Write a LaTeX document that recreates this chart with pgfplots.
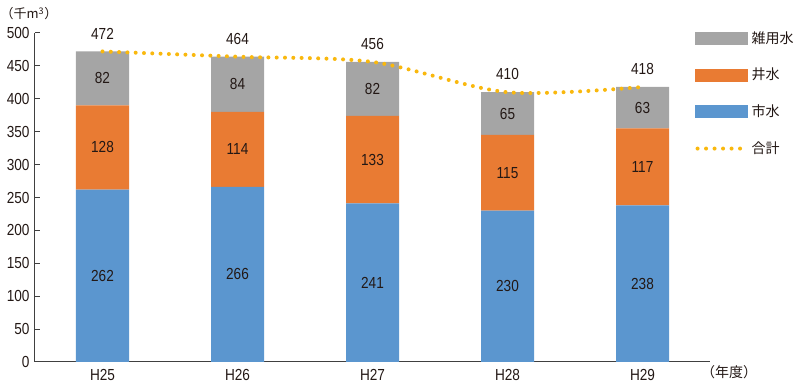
\documentclass[border=0pt]{standalone}
\usepackage{fontspec}
\setmainfont{Liberation Sans}[FakeStretch=0.85]
\newfontfamily\jp{Noto Sans CJK JP}
\usepackage{pgfplots}
\pgfplotsset{compat=1.18}
\definecolor{cgray}{HTML}{A5A5A5}
\definecolor{corange}{HTML}{E97B33}
\definecolor{cblue}{HTML}{5B96CF}
\definecolor{cyel}{HTML}{F9B80E}
\definecolor{axc}{HTML}{404040}
\definecolor{txt}{HTML}{231815}
\pgfplotsset{common/.style={
  at={(0pt,0pt)}, anchor=south west,
  scale only axis, width=675pt, height=329pt,
  xmin=-0.5, xmax=4.5, ymin=0, ymax=500, clip=false}}
\begin{document}
\begin{tikzpicture}
\useasboundingbox (-35pt,-25pt) rectangle (765pt,362pt);
\begin{axis}[
  common,
  ybar stacked, bar width=53pt,
  ytick={0,50,...,500},
  xtick={0,1,2,3,4}, xticklabels={H25,H26,H27,H28,H29},
  axis x line=bottom, axis y line=left,
  axis line style={-, axc, line width=1pt},
  x tick style={draw=none},
  y tick style={axc, line width=1pt},
  major tick length=5pt,
  tick align=inside,
  /pgf/number format/assume math mode=true,
  ticklabel style={font=\fontsize{16}{18}\selectfont, text=txt},
  yticklabel style={xshift=-2pt},
  xticklabel style={yshift=-4pt},
  legend style={at={(axis description cs:0.978,1.012)}, anchor=north west, draw=none, fill=none,
    font=\jp\fontsize{14}{16}\selectfont, row sep=19.6pt, inner sep=0pt, text=txt},
  legend cell align=left,
]
\addlegendimage{legend image code/.code={\fill[cgray] (0pt,-6pt) rectangle (52pt,6pt);}}
\addlegendentry{雑用水}
\addlegendimage{legend image code/.code={\fill[corange] (0pt,-6pt) rectangle (52pt,6pt);}}
\addlegendentry{井水}
\addlegendimage{legend image code/.code={\fill[cblue] (0pt,-6pt) rectangle (52pt,6pt);}}
\addlegendentry{市水}
\addlegendimage{legend image code/.code={\draw[cyel, line width=4pt, line cap=round, dash pattern=on 0pt off 8.5pt] (2pt,0pt) -- (52pt,0pt);}}
\addlegendentry{合計}

\addplot[forget plot, fill=cblue, draw=none] coordinates {(0,262) (1,266) (2,241) (3,230) (4,238)};
\addplot[forget plot, fill=corange, draw=none] coordinates {(0,128) (1,114) (2,133) (3,115) (4,117)};
\addplot[forget plot, fill=cgray, draw=none] coordinates {(0,82) (1,84) (2,82) (3,65) (4,63)};
\end{axis}
\begin{axis}[common, hide axis]
\addplot[smooth, cyel, line width=4pt, line cap=round, dash pattern=on 0pt off 8.3pt,
  nodes near coords, point meta=explicit symbolic,
  every node near coord/.style={text=txt, anchor=south, yshift=7pt, font=\fontsize{16}{18}\selectfont}]
  coordinates {(0,472)[472] (1,464)[464] (2,456)[456] (3,410)[410] (4,418)[418]};
\addplot[only marks, mark=none,
  nodes near coords, point meta=explicit symbolic,
  every node near coord/.style={text=txt, anchor=center, font=\fontsize{16}{18}\selectfont}]
  coordinates {(0,131)[262] (1,133)[266] (2,120.5)[241] (3,115)[230] (4,119)[238]
               (0,326)[128] (1,323)[114] (2,307.5)[133] (3,287.5)[115] (4,296.5)[117]
               (0,431)[82] (1,422)[84] (2,415)[82] (3,377.5)[65] (4,386.5)[63]};
\end{axis}
\node[anchor=west, inner sep=0pt, text=txt, font=\jp\fontsize{13}{15}\selectfont] at (-34.5pt,348pt) {（千m\textsuperscript{3}）};
\node[anchor=west, inner sep=0pt, text=txt, font=\jp\fontsize{14}{16}\selectfont] at (666pt,-10pt) {（年度）};
\end{tikzpicture}
\end{document}
